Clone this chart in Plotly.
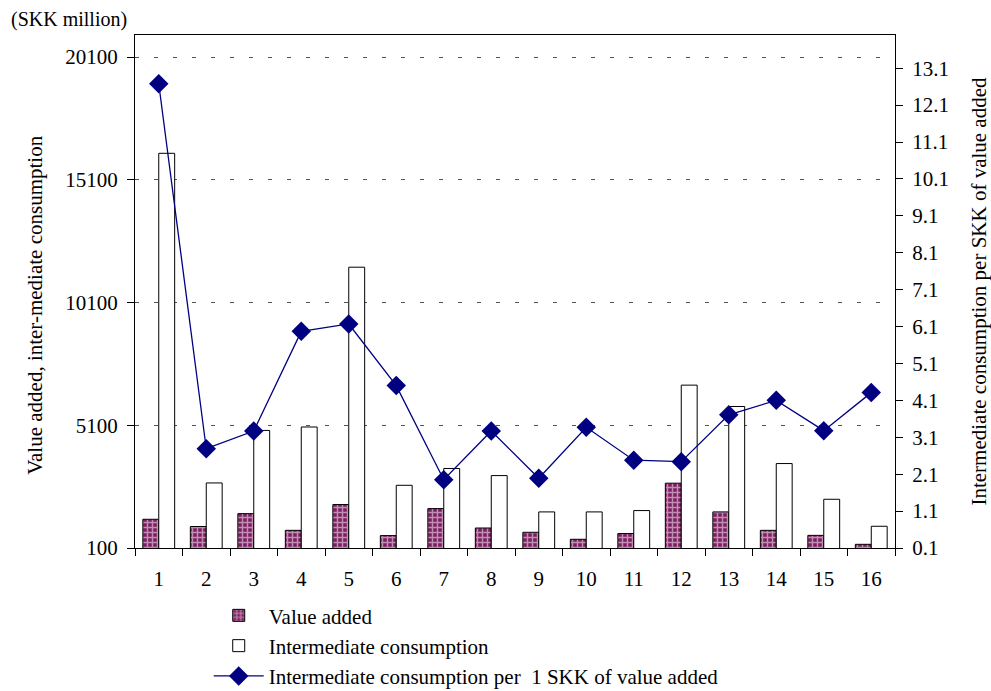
import plotly.graph_objects as go

categories = [str(i) for i in range(1, 17)]
value_added = [1270, 975, 1500, 820, 1870, 605, 1705, 915, 740, 455, 690, 2740, 1570, 820, 615, 250]
intermediate = [16180, 2750, 4890, 5030, 11540, 2655, 3340, 3050, 1570, 1570, 1625, 6735, 5865, 3540, 2085, 985]
ic_per_va = [12.68, 2.79, 3.27, 5.97, 6.17, 4.50, 1.95, 3.27, 1.99, 3.37, 2.48, 2.44, 3.71, 4.10, 3.28, 4.31]

left_ticks = [100, 5100, 10100, 15100, 20100]
right_ticks = [0.1, 1.1, 2.1, 3.1, 4.1, 5.1, 6.1, 7.1, 8.1, 9.1, 10.1, 11.1, 12.1, 13.1]

FONT = "Liberation Serif"
FS = 21

fig = go.Figure()
fig.add_trace(go.Bar(
    x=categories, y=value_added, name="Value added",
    marker=dict(color="#7E1E62", line=dict(color="black", width=1),
                pattern=dict(shape="+", fgcolor="white", bgcolor="#7E1E62",
                             size=5, solidity=0.5)),
))
fig.add_trace(go.Bar(
    x=categories, y=intermediate, name="Intermediate consumption",
    marker=dict(color="white", line=dict(color="black", width=1)),
))
fig.add_trace(go.Scatter(
    x=categories, y=ic_per_va, yaxis="y2", mode="lines+markers",
    name="Intermediate consumption per  1 SKK of value added",
    line=dict(color="#000080", width=1.3),
    marker=dict(symbol="diamond", size=15, color="#000080"),
))

fig.update_layout(
    width=991, height=691,
    margin=dict(l=135, r=96, t=35, b=143, autoexpand=False),
    paper_bgcolor="white", plot_bgcolor="white",
    font=dict(family=FONT, size=FS, color="black"),
    barmode="group", bargap=0.33, bargroupgap=0,
    showlegend=True,
    legend=dict(orientation="v", x=0.097, xanchor="left", y=-0.092, yanchor="top",
                font=dict(family=FONT, size=FS), tracegroupgap=0,
                itemwidth=50, bgcolor="rgba(0,0,0,0)"),
    xaxis=dict(type="category", range=[-0.5, 15.5], showline=True,
               linecolor="black", linewidth=1,
               mirror=True, ticks="outside", ticklen=7, tickcolor="black",
               tickson="boundaries", showgrid=False, automargin=False,
               ticklabelstandoff=12,
               tickfont=dict(family=FONT, size=FS)),
    yaxis=dict(range=[100, 21000], tickvals=left_ticks,
               ticktext=[str(v) for v in left_ticks], showline=True,
               linecolor="black", linewidth=1, ticks="outside", ticklen=7,
               tickcolor="black", showgrid=True, gridcolor="#555555",
               griddash="4px,15px", gridwidth=1, zeroline=False, automargin=False,
               ticklabelstandoff=5,
               tickfont=dict(family=FONT, size=FS)),
    yaxis2=dict(range=[0.1, 14.0], tickvals=right_ticks,
                ticktext=[f"{v:.1f}" for v in right_ticks],
                overlaying="y", side="right", showline=True, linecolor="black",
                linewidth=1, ticks="outside", ticklen=7, tickcolor="black",
                showgrid=False, zeroline=False, automargin=False,
                ticklabelstandoff=5,
                title=dict(text="Intermediate consumption per SKK of value added",
                           font=dict(family=FONT, size=FS), standoff=28),
                tickfont=dict(family=FONT, size=FS)),
    annotations=[
        dict(text="(SKK million)", xref="paper", yref="paper",
             x=-0.166, y=1.03, xanchor="left", yanchor="middle",
             showarrow=False, font=dict(family=FONT, size=FS - 1)),
        dict(text="Value added, inter-mediate consumption", xref="paper", yref="paper",
             x=-0.1316, y=0.474, xanchor="center", yanchor="middle", textangle=-90,
             showarrow=False, font=dict(family=FONT, size=FS)),
    ],
)

fig.write_html("out.html")
